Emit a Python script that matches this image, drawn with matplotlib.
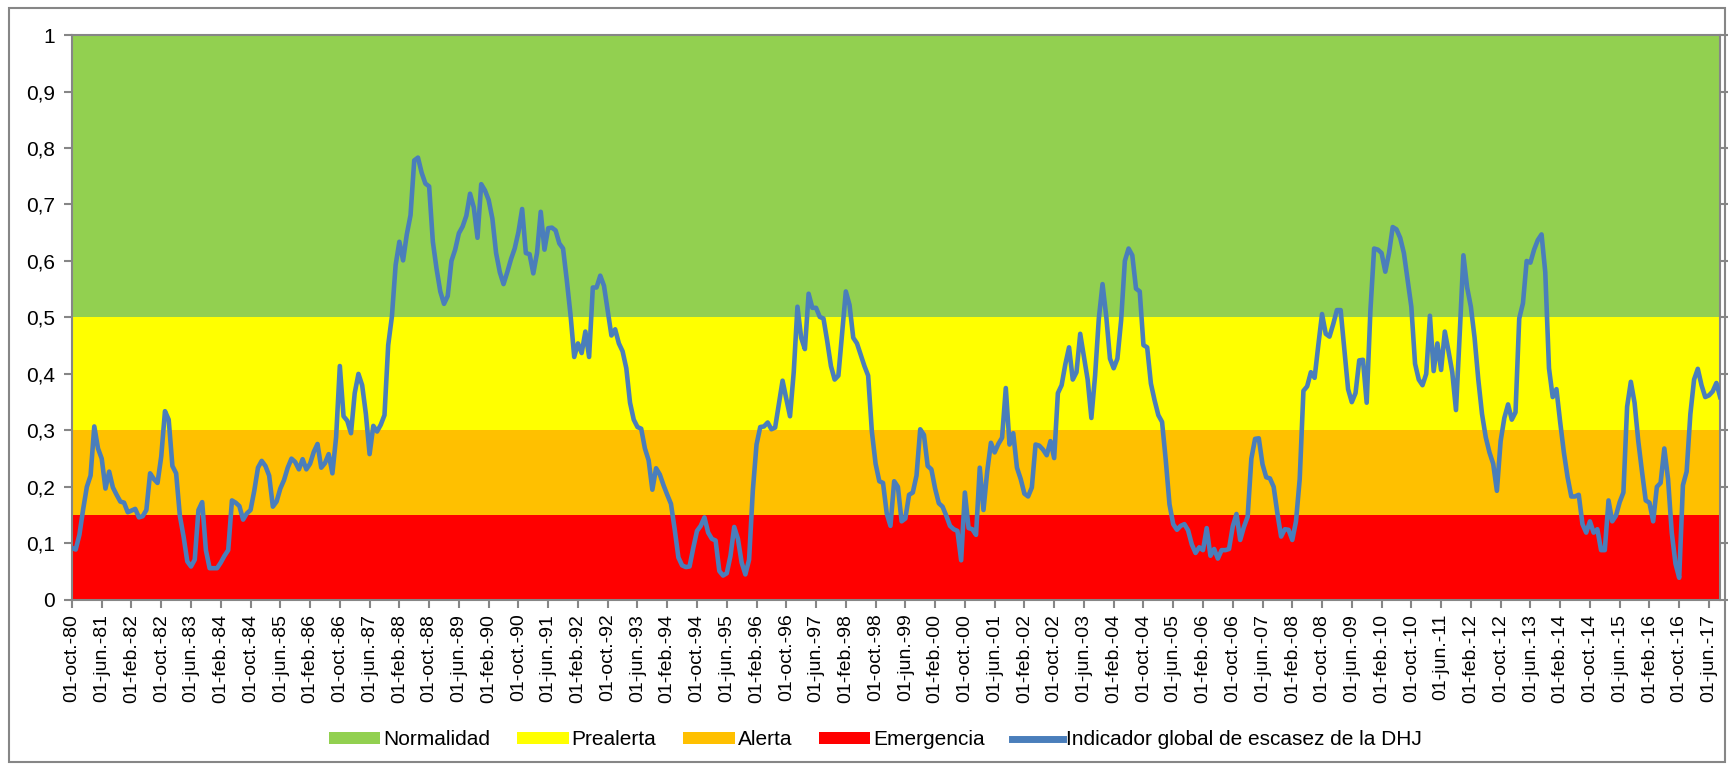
import numpy as np
import pandas as pd
import matplotlib
matplotlib.use('Agg')
import matplotlib.pyplot as plt
from matplotlib.patches import Patch, Rectangle
from matplotlib.lines import Line2D

plt.rcParams['font.family'] = ['Liberation Sans', 'DejaVu Sans']

# Indicador global de escasez (mensual, oct-1980 .. sep-2017)
ind_1980_86 = [0.092, 0.089, 0.115, 0.16, 0.20, 0.22, 0.307, 0.268, 0.25, 0.197,
               0.227, 0.199, 0.186, 0.174, 0.172, 0.155, 0.158, 0.161, 0.146, 0.148,
               0.159, 0.224, 0.214, 0.207, 0.254, 0.334, 0.319, 0.237, 0.224, 0.149,
               0.112, 0.068, 0.059, 0.071, 0.159, 0.173, 0.088, 0.056, 0.056, 0.056,
               0.066, 0.078, 0.088, 0.176, 0.172, 0.166, 0.142, 0.153, 0.159, 0.193,
               0.234, 0.246, 0.237, 0.220, 0.165, 0.174, 0.197, 0.212, 0.234, 0.25,
               0.244, 0.231, 0.249, 0.231, 0.241, 0.262, 0.276, 0.234, 0.242, 0.258,
               0.224, 0.288, 0.414, 0.325, 0.317, 0.295, 0.366, 0.40]
ind_1987_92 = [0.38, 0.329, 0.258, 0.308, 0.298, 0.31, 0.327, 0.451, 0.502, 0.593,
               0.634, 0.601, 0.647, 0.681, 0.778, 0.783, 0.756, 0.737, 0.732, 0.634,
               0.586, 0.546, 0.524, 0.538, 0.60, 0.62, 0.649, 0.661, 0.68, 0.719,
               0.695, 0.641, 0.736, 0.725, 0.708, 0.675, 0.614, 0.58, 0.559, 0.58,
               0.603, 0.622, 0.651, 0.692, 0.614, 0.612, 0.578, 0.614, 0.687, 0.62,
               0.658, 0.659, 0.654, 0.631, 0.622, 0.566, 0.505, 0.43, 0.454, 0.437,
               0.475, 0.43, 0.553, 0.553, 0.574, 0.556, 0.512, 0.468, 0.479, 0.454,
               0.44]
ind_1993_99 = [0.41, 0.349, 0.319, 0.306, 0.303, 0.268, 0.247, 0.195, 0.233, 0.222,
               0.203, 0.186, 0.17, 0.125, 0.075, 0.061, 0.058, 0.059, 0.092, 0.122,
               0.131, 0.146, 0.119, 0.108, 0.105, 0.051, 0.043, 0.047, 0.078, 0.129,
               0.108, 0.066, 0.045, 0.071, 0.193, 0.275, 0.306, 0.307, 0.314, 0.302,
               0.305, 0.346, 0.388, 0.356, 0.325, 0.403, 0.519, 0.464, 0.444, 0.542,
               0.517, 0.517, 0.501, 0.498, 0.458, 0.414, 0.39, 0.397, 0.471, 0.546,
               0.522, 0.464, 0.454, 0.434, 0.414, 0.397, 0.298, 0.241, 0.21, 0.207,
               0.153, 0.131, 0.21, 0.2, 0.139, 0.144, 0.186, 0.19, 0.22]
ind_1999_05 = [0.302, 0.292, 0.237, 0.231, 0.197, 0.171, 0.165, 0.149, 0.131, 0.125,
               0.122, 0.07, 0.19, 0.127, 0.125, 0.115, 0.234, 0.159, 0.227, 0.278,
               0.261, 0.276, 0.287, 0.375, 0.275, 0.295, 0.234, 0.214, 0.188, 0.183,
               0.199, 0.275, 0.273, 0.266, 0.256, 0.281, 0.251, 0.366, 0.38, 0.417,
               0.447, 0.39, 0.403, 0.471, 0.43, 0.39, 0.322, 0.397, 0.498, 0.559,
               0.502, 0.427, 0.41, 0.427, 0.495, 0.60, 0.622, 0.61, 0.551, 0.546,
               0.451, 0.447, 0.383, 0.353, 0.327, 0.315, 0.247, 0.169, 0.134, 0.124]
ind_2005_11 = [0.131, 0.134, 0.123, 0.098, 0.083, 0.093, 0.088, 0.127, 0.078, 0.09,
               0.073, 0.088, 0.088, 0.09, 0.13, 0.152, 0.106, 0.129, 0.147, 0.25,
               0.285, 0.286, 0.24, 0.217, 0.215, 0.2, 0.153, 0.112, 0.125, 0.124,
               0.106, 0.139, 0.214, 0.37, 0.378, 0.403, 0.393, 0.451, 0.506, 0.471,
               0.466, 0.488, 0.513, 0.513, 0.444, 0.373, 0.35, 0.366, 0.424, 0.425,
               0.349, 0.512, 0.622, 0.62, 0.614, 0.581, 0.614, 0.66, 0.656, 0.641,
               0.614, 0.566, 0.519, 0.418, 0.39, 0.38, 0.40, 0.503, 0.405]
ind_2011_17 = [0.454, 0.407, 0.475, 0.44, 0.403, 0.336, 0.47, 0.61, 0.553, 0.519,
               0.464, 0.39, 0.329, 0.288, 0.261, 0.241, 0.193, 0.281, 0.322, 0.346,
               0.319, 0.332, 0.498, 0.525, 0.60, 0.597, 0.62, 0.637, 0.647, 0.58,
               0.41, 0.359, 0.373, 0.315, 0.261, 0.217, 0.183, 0.183, 0.186, 0.134,
               0.119, 0.139, 0.119, 0.125, 0.088, 0.088, 0.176, 0.139, 0.149, 0.173,
               0.19, 0.342, 0.386, 0.349, 0.281, 0.227, 0.176, 0.172, 0.139, 0.2,
               0.207, 0.268, 0.214, 0.119, 0.064, 0.039, 0.203, 0.227, 0.329, 0.39,
               0.409, 0.38, 0.359, 0.362, 0.369, 0.384, 0.359]

indicador = ind_1980_86 + ind_1987_92 + ind_1993_99 + ind_1999_05 + ind_2005_11 + ind_2011_17

# umbrales de los estados
estados = ['Normalidad', 'Prealerta', 'Alerta', 'Emergencia']
limites = [(0.5, 1.0), (0.3, 0.5), (0.15, 0.3), (0.0, 0.15)]
colores = ['#92D050', '#FFFF00', '#FFC000', '#FF0000']

meses_es = ['ene.', 'feb.', 'mar.', 'abr.', 'may.', 'jun.',
            'jul.', 'ago.', 'sep.', 'oct.', 'nov.', 'dic.']
fechas = pd.date_range('1980-10-01', periods=len(indicador), freq='MS')
etiquetas = ['01-%s-%s' % (meses_es[f.month - 1], f.strftime('%y')) for f in fechas]

fig = plt.figure(figsize=(17.34, 7.70), dpi=100)
ax = fig.add_axes([0.0415, 0.221, 0.9505, 0.7335])

for (y0, y1), c in zip(limites, colores):
    ax.axhspan(y0, y1, color=c, lw=0, zorder=0)

x = np.arange(len(indicador))
ax.plot(x, indicador, color='#4A7EBB', lw=3.3, solid_joinstyle='round', zorder=3)

ax.set_xlim(0, len(indicador) - 1)
ax.set_ylim(0, 1)
ax.set_yticks(np.arange(0, 1.01, 0.1))
ax.set_yticklabels(['0'] + [('%.1f' % v).replace('.', ',') for v in np.arange(0.1, 0.95, 0.1)] + ['1'])
ax.set_xticks(x[::8])
ax.set_xticklabels(etiquetas[::8], rotation=90, va='top', ha='center')

gris = '#868686'
for s in ax.spines.values():
    s.set_color(gris)
    s.set_linewidth(1.5)
ax.yaxis.set_ticks_position('both')
ax.tick_params(axis='y', direction='out', length=6, width=1.5, color=gris,
               labelsize=15, pad=6, labelright=False)
ax.tick_params(axis='x', direction='out', length=6, width=1.5, color=gris,
               labelsize=14, pad=4)

handles = [Patch(facecolor=colores[i], edgecolor='none') for i in range(4)]
handles.append(Line2D([0], [0], color='#4A7EBB', lw=5))
fig.legend(handles, estados + ['Indicador global de escasez de la DHJ'],
           loc='center', bbox_to_anchor=(0.505, 0.039), ncol=5, frameon=False,
           fontsize=15, handlelength=2.45, handleheight=0.5, handletextpad=0.15,
           columnspacing=1.3)

fig.patches.append(Rectangle((0.005, 0.011), 0.99, 0.978, transform=fig.transFigure,
                             fill=False, edgecolor=gris, lw=1.5))

fig.savefig('out.png', dpi=100)
